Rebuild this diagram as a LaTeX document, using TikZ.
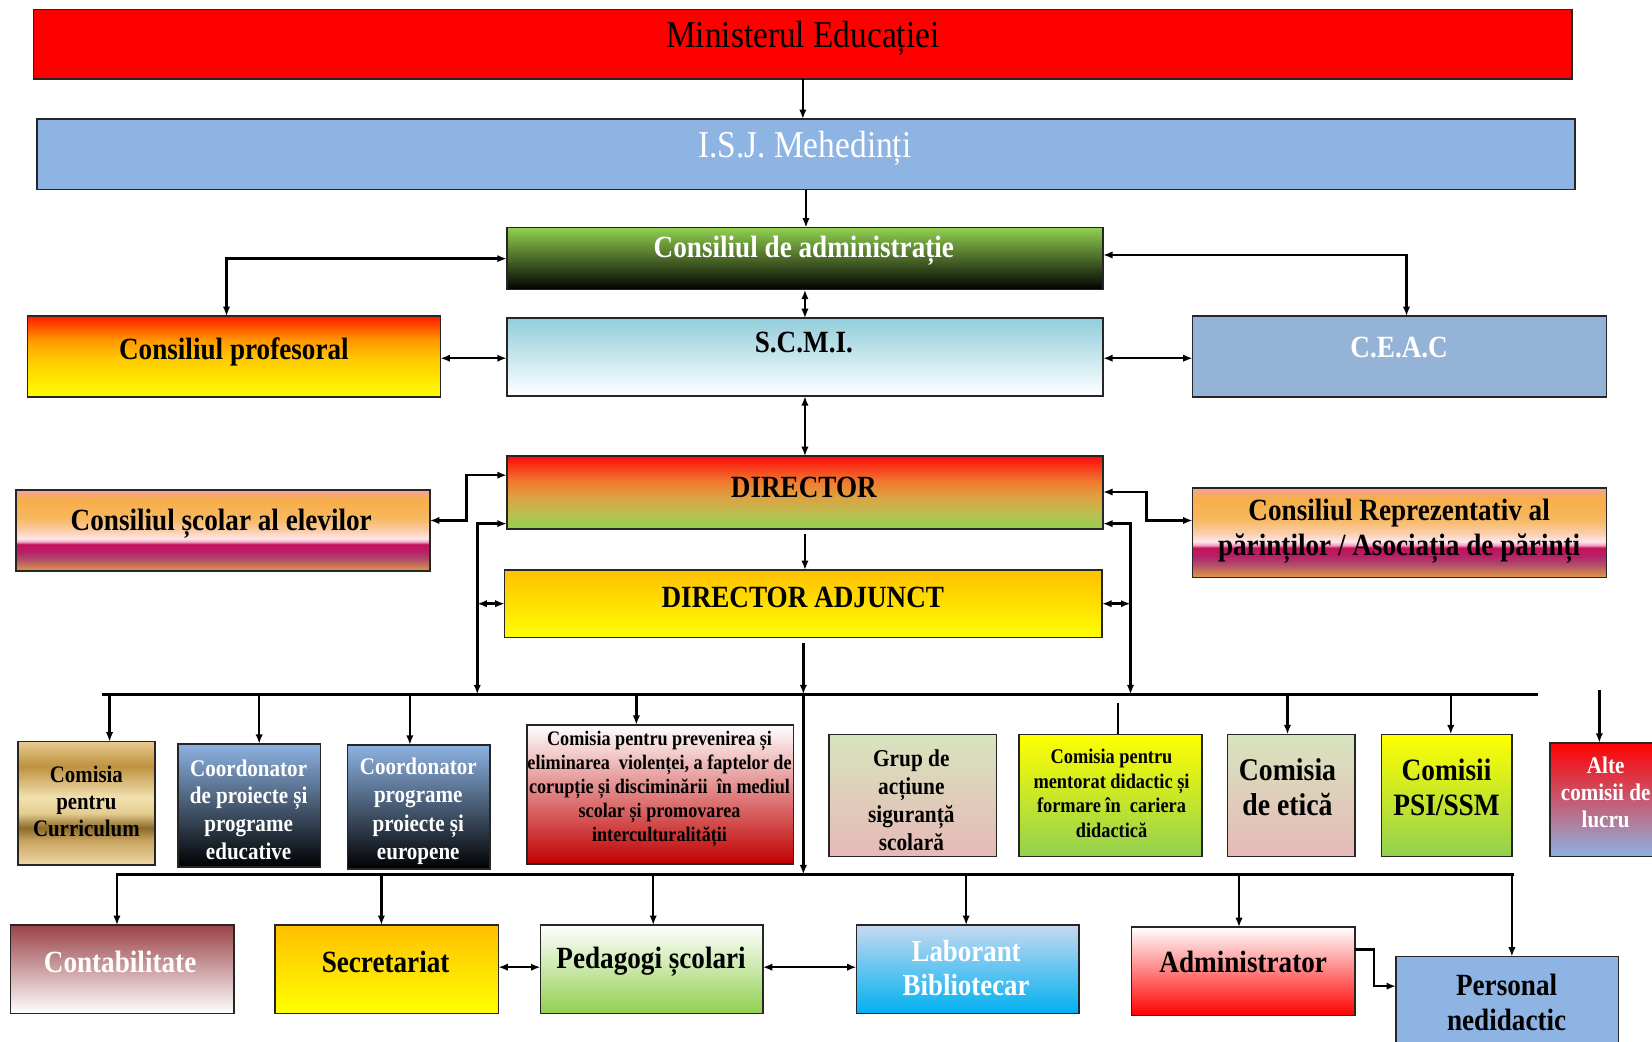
\documentclass[tikz,border=0pt]{standalone}
\usepackage{fontspec}
\setmainfont{Liberation Serif}[FakeStretch=0.88]
\usetikzlibrary{arrows.meta,fit}

\definecolor{mred}{HTML}{FF0000}
\definecolor{isjblue}{HTML}{8EB4E3}
\definecolor{ceacblue}{HTML}{95B3D7}
\definecolor{lgreen}{HTML}{92D050}
\definecolor{scmitop}{HTML}{92CDDC}
\definecolor{gold}{HTML}{FFC000}
\definecolor{yel}{HTML}{FFFF00}
\definecolor{coordtop}{HTML}{8DB3E2}
\definecolor{prevred}{HTML}{C00000}
\definecolor{sagetop}{HTML}{D7E4BD}
\definecolor{pinkbot}{HTML}{E6B9B8}
\definecolor{conttop}{HTML}{9A4348}
\definecolor{labtop}{HTML}{C6D9F1}
\definecolor{labbot}{HTML}{00B0F0}
% sunset
\definecolor{sunA}{HTML}{E39A48}
\definecolor{sunB}{HTML}{B04A6A}
\definecolor{sunC}{HTML}{B8206A}
\definecolor{sunD}{HTML}{C4125A}
\definecolor{sunE}{HTML}{F0A0C0}
\definecolor{sunF}{HTML}{FFE6EC}
\definecolor{sunG}{HTML}{FACDA8}
\definecolor{sunH}{HTML}{F8B860}
\definecolor{sunI}{HTML}{F6AE48}
\definecolor{sunJ}{HTML}{F8A0A0}
% gold
\definecolor{goA}{HTML}{F0D8A8}
\definecolor{goB}{HTML}{C8A460}
\definecolor{goC}{HTML}{8C6A28}
\definecolor{goD}{HTML}{E5CC90}
\definecolor{goE}{HTML}{F2E0B0}
\definecolor{goF}{HTML}{BE9240}
\definecolor{goG}{HTML}{E8CA8E}
% fire
\definecolor{fiA}{HTML}{FFCC00}
\definecolor{fiB}{HTML}{FF9900}
\definecolor{fiC}{HTML}{FF1A00}
% director
\definecolor{diA}{HTML}{B8C050}
\definecolor{diB}{HTML}{E0A040}
\definecolor{diC}{HTML}{EF7A30}
\definecolor{diD}{HTML}{FF0A0A}

\pgfdeclareverticalshading{sunset}{100bp}{color(0bp)=(sunA); color(25bp)=(sunA); color(32.5bp)=(sunB); color(37bp)=(sunC); color(41.5bp)=(sunD); color(43bp)=(sunE); color(45bp)=(sunF); color(50bp)=(sunG); color(57.5bp)=(sunH); color(69bp)=(sunI); color(75bp)=(sunJ); color(100bp)=(sunJ)}
\pgfdeclareverticalshading{goldsh}{100bp}{color(0bp)=(goA); color(25bp)=(goA); color(35bp)=(goB); color(40bp)=(goC); color(46bp)=(goD); color(52.5bp)=(goE); color(65bp)=(goF); color(75bp)=(goG); color(100bp)=(goG)}
\pgfdeclareverticalshading{firesh}{100bp}{color(0bp)=(yel); color(25bp)=(yel); color(47.5bp)=(fiA); color(60bp)=(fiB); color(75bp)=(fiC); color(100bp)=(fiC)}
\pgfdeclareverticalshading{dirsh}{100bp}{color(0bp)=(lgreen); color(25bp)=(lgreen); color(35bp)=(diA); color(47.5bp)=(diB); color(57.5bp)=(diC); color(75bp)=(diD); color(100bp)=(diD)}

\newcommand\fBig{\fontsize{36}{40}\selectfont}
\newcommand\fMain{\fontsize{29.3}{33}\selectfont\bfseries}
\newcommand\fMed{\fontsize{22.7}{26.3}\selectfont\bfseries}
\newcommand\fSm{\fontsize{19.6}{22.75}\selectfont\bfseries}

\tikzset{
  box/.style={draw=black!85, line width=1.4pt, inner sep=0pt, outer sep=0pt},
  lbl/.style={inner sep=0pt, align=center, yshift=-3pt},
  conn/.style={line width=2.4pt, black},
  arr/.style={conn, -{Latex[length=9pt,width=7pt]}},
  darr/.style={conn, {Latex[length=9pt,width=7pt]}-{Latex[length=9pt,width=7pt]}},
  busline/.style={line width=3.2pt, black},
}

\begin{document}
\begin{tikzpicture}[x=1pt,y=-1pt]
\useasboundingbox (0,0) rectangle (1568,989);
\clip (0,0) rectangle (1568,989);

% ---------- boxes ----------
\node[box, fill=mred, fit={(32,9) (1492,75)}] (min) {};
\node[box, fill=isjblue, fit={(35,113) (1495,180)}] (isj) {};
\node[box, top color=lgreen, bottom color=black, fit={(481,216) (1047,275)}] (ca) {};
\node[box, shading=firesh, shade, fit={(26,300) (418,377)}] (cp) {};
\node[box, top color=scmitop, bottom color=white, fit={(481,302) (1047,376)}] (scmi) {};
\node[box, fill=ceacblue, fit={(1132,300) (1525,377)}] (ceac) {};
\node[box, shading=dirsh, shade, fit={(481,433) (1047,502)}] (dir) {};
\node[box, shading=sunset, shade, fit={(15,465) (408,542)}] (cse) {};
\node[box, shading=sunset, shade, fit={(1132,463) (1525,548)}] (crp) {};
\node[box, top color=gold, bottom color=yel, fit={(479,541) (1046,605)}] (da) {};

\node[box, shading=goldsh, shade, fit={(17,704) (147,821)}] (cc) {};
\node[box, top color=coordtop, bottom color=black, fit={(169,706) (304,823)}] (cpe) {};
\node[box, top color=coordtop, bottom color=black, fit={(330,707) (465,825)}] (cpp) {};
\node[box, top color=white, bottom color=prevred, fit={(500,688) (753,820)}] (prev) {};
\node[box, top color=sagetop, bottom color=pinkbot, fit={(787,697) (946,813)}] (grup) {};
\node[box, top color=yel, bottom color=lgreen, fit={(967,697) (1141,813)}] (ment) {};
\node[box, top color=sagetop, bottom color=pinkbot, fit={(1165,697) (1286,813)}] (etica) {};
\node[box, top color=yel, bottom color=lgreen, fit={(1311,697) (1435,813)}] (psi) {};
\node[box, top color=mred, bottom color=coordtop, fit={(1471,705) (1600,813)}] (alte) {};

\node[box, top color=conttop, bottom color=white, fit={(10,878) (222,962)}] (cont) {};
\node[box, top color=gold, bottom color=yel, fit={(261,878) (473,962)}] (secr) {};
\node[box, top color=white, bottom color=lgreen, fit={(513,878) (724,962)}] (ped) {};
\node[box, top color=labtop, bottom color=labbot, fit={(813,878) (1024,962)}] (lab) {};
\node[box, top color=white, bottom color=mred, fit={(1074,880) (1286,964)}] (adm) {};
\node[box, fill=isjblue, fit={(1325,908) (1536,1010)}] (pers) {};

% ---------- texts ----------
\node[lbl, font=\fBig] (min-t) at (762,33) {Ministerul Educației};
\node[lbl, font=\fBig, text=white] (isj-t) at (764,138) {I.S.J. Mehedinți};
\node[lbl, font=\fMain, text=white] (ca-t) at (763,235) {Consiliul de administrație};
\node[lbl, font=\fMain] (cp-t) at (222,331) {Consiliul profesoral};
\node[lbl, font=\fMain] (scmi-t) at (763,322) {S.C.M.I.};
\node[lbl, font=\fMain, text=white] (ceac-t) at (1328,327) {C.E.A.C};
\node[lbl, font=\fMain] (dir-t) at (763,460) {DIRECTOR};
\node[lbl, font=\fMain] (cse-t) at (210,494) {Consiliul școlar al elevilor};
\node[lbl, font=\fMain] (crp-t) at (1328,501.5) {Consiliul Reprezentativ al\\părinților / Asociația de părinți};
\node[lbl, font=\fMain] (da-t) at (762,564) {DIRECTOR ADJUNCT};

\node[lbl, font=\fontsize{22.5}{25.5}\selectfont\bfseries] (cc-t) at (82,758) {Comisia\\pentru\\Curriculum};
\node[lbl, font=\fMed, text=white] (cpe-t) at (236,765.5) {Coordonator\\de proiecte și\\programe\\educative};
\node[lbl, font=\fontsize{22.7}{26.7}\selectfont\bfseries, text=white] (cpp-t) at (397,767) {Coordonator\\programe\\proiecte și\\europene};
\node[lbl, font=\fSm] (prev-t) at (626,745.5) {Comisia pentru prevenirea și\\eliminarea\ \ violenței, a faptelor de\\corupție și disciminării\ \ în mediul\\scolar și promovarea\\interculturalității};
\node[lbl, font=\fontsize{23}{26.3}\selectfont\bfseries] (grup-t) at (865,756.5) {Grup de\\acțiune\\siguranță\\scolară};
\node[lbl, font=\fontsize{19.8}{23.3}\selectfont\bfseries] (ment-t) at (1055,750) {Comisia pentru\\mentorat didactic și\\formare în\ \ cariera\\didactică};
\node[lbl, font=\fontsize{30}{33}\selectfont\bfseries] (etica-t) at (1222,744.5) {Comisia\\de etică};
\node[lbl, font=\fontsize{29.5}{33}\selectfont\bfseries] (psi-t) at (1373,744.5) {Comisii\\PSI/SSM};
\node[lbl, font=\fontsize{22.7}{26}\selectfont\bfseries, text=white] (alte-t) at (1524,749) {Alte\\comisii de\\lucru};

\node[lbl, font=\fMain, text=white] (cont-t) at (114,910) {Contabilitate};
\node[lbl, font=\fMain] (secr-t) at (366,910) {Secretariat};
\node[lbl, font=\fMain] (ped-t) at (618,910) {Pedagogi școlari};
\node[lbl, font=\fontsize{29}{32}\selectfont\bfseries, text=white] (lab-t) at (917,916) {Laborant\\Bibliotecar};
\node[lbl, font=\fMain] (adm-t) at (1180,910) {Administrator};
\node[lbl, font=\fMain] (pers-t) at (1430,948.5) {Personal\\nedidactic};

% ---------- bus coordinates ----------
\coordinate (bus1w) at (97,659);
\coordinate (bus1e) at (1460,659);
\coordinate (bus2w) at (110,830);
\coordinate (bus2e) at (1437,830);
\coordinate (mentTap) at (1061,667);
\coordinate (alteTap) at (1518,655);

% ---------- connectors: top ----------
\draw[arr] (min.south) -- (min.south |- isj.north);
\draw[arr] (isj.south) -- (isj.south |- ca.north);
\draw[darr] (ca.west) -| (215,0 |- cp.north);
\draw[darr] (ca.east |- 0,242) -| (1335,0 |- ceac.north);
\draw[darr] (ca.south) -- (ca.south |- scmi.north);
\draw[darr] (cp.east |- 0,340) -- (scmi.west |- 0,340);
\draw[darr] (scmi.east |- 0,340) -- (ceac.west |- 0,340);
\draw[darr] (scmi.south) -- (scmi.south |- dir.north);

% ---------- connectors: director level ----------
\draw[darr] (cse.east |- 0,494) -- (443,494) |- (dir.west |- 0,451);
\draw[darr] (dir.west |- 0,497) -| (453,0 |- bus1w);
\draw[darr] (da.west) -- (453,0 |- da.west);
\draw[darr] (dir.east |- 0,467) -- (1088,467) |- (crp.west |- 0,494);
\draw[darr] (dir.east |- 0,497) -| (1073,0 |- bus1w);
\draw[darr] (da.east) -- (1073,0 |- da.east);
\draw[arr, shorten <=5pt] (dir.south) -- (dir.south |- da.north);
\draw[arr, shorten <=5pt] (da.south) -- (da.south |- bus1w);
\draw[arr] (da.south |- bus1w) -- (da.south |- bus2w);

% ---------- bus 1 ----------
\draw[busline] (bus1w) -- (bus1e);
\draw[arr] (104,0 |- bus1w) -- (104,0 |- cc.north);
\draw[arr] (246,0 |- bus1w) -- (246,0 |- cpe.north);
\draw[arr] (389,0 |- bus1w) -- (389,0 |- cpp.north);
\draw[arr] (604,0 |- bus1w) -- (604,0 |- prev.north);
\draw[conn] (mentTap) -- (mentTap |- ment.north);
\draw[arr] (1222,0 |- bus1w) -- (1222,0 |- etica.north);
\draw[arr] (1377,0 |- bus1w) -- (1377,0 |- psi.north);
\draw[arr] (alteTap) -- (alteTap |- alte.north);

% ---------- bus 2 ----------
\draw[busline] (bus2w) -- (bus2e);
\draw[arr] (111,0 |- bus2w) -- (111,0 |- cont.north);
\draw[arr] (362,0 |- bus2w) -- (362,0 |- secr.north);
\draw[arr] (620,0 |- bus2w) -- (620,0 |- ped.north);
\draw[arr] (917,0 |- bus2w) -- (917,0 |- lab.north);
\draw[arr] (1176,0 |- bus2w) -- (1176,0 |- adm.north);
\draw[arr] (1435,0 |- bus2w) -- (1435,0 |- pers.north);

% ---------- bottom row ----------
\draw[darr] (secr.east |- 0,918) -- (ped.west |- 0,918);
\draw[darr] (ped.east |- 0,918) -- (lab.west |- 0,918);
\draw[arr] (adm.east |- 0,901) -- (1304,901) |- (pers.west |- 0,936);
\end{tikzpicture}
\end{document}
